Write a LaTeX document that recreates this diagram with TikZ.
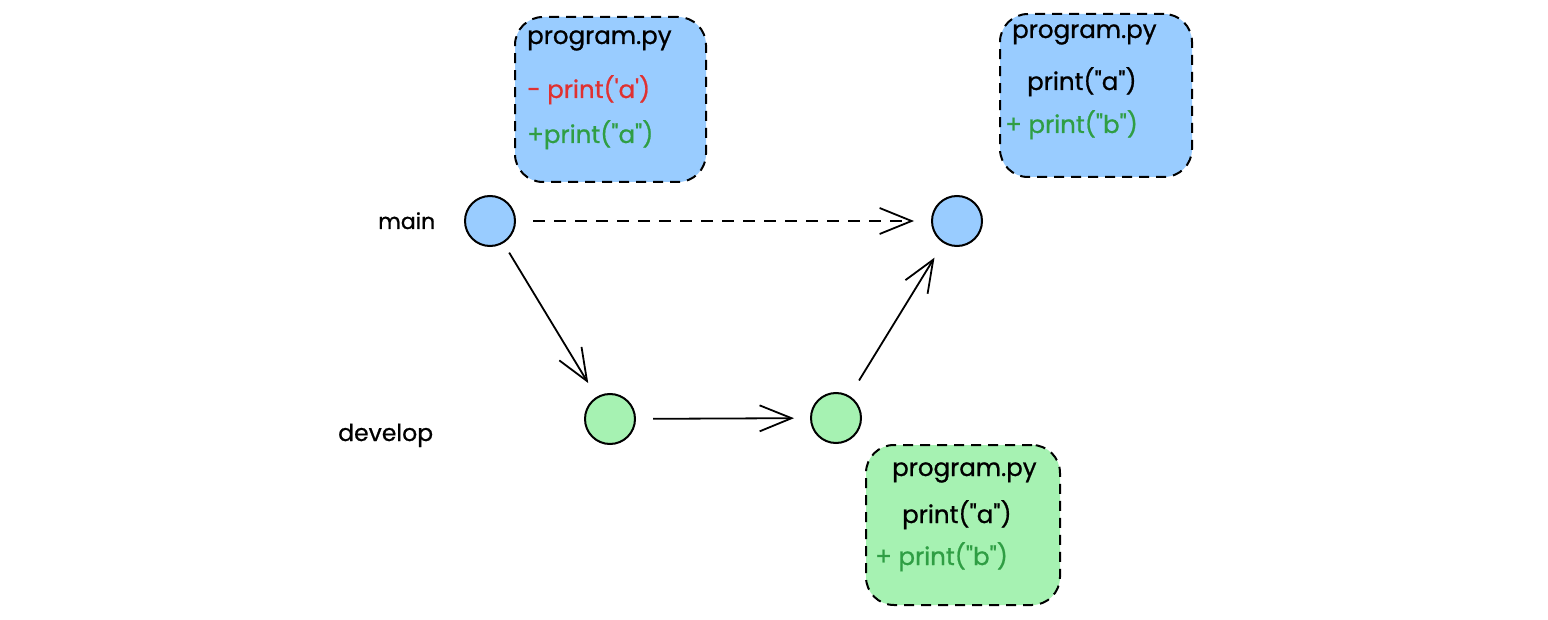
\documentclass[tikz,border=0pt]{standalone}
\usepackage{fontspec}
\setmainfont{Poppins}[Ligatures=TeXOff,FakeBold=0.8]
\usetikzlibrary{arrows.meta}
\definecolor{mblue}{RGB}{153,204,255}
\definecolor{mgreen}{RGB}{166,242,178}
\definecolor{tgreen}{RGB}{47,158,68}
\definecolor{tred}{RGB}{224,49,49}
\begin{document}
\begin{tikzpicture}[x=1pt,y=-1pt,
  commit/.style={circle,draw=black,line width=2pt,minimum size=50pt,inner sep=0pt},
  filebox/.style={draw=black,line width=2pt,dash pattern=on 10pt off 7pt,rounded corners=28pt,inner sep=0pt},
  txt/.style={font=\fontsize{24.5}{28}\selectfont,anchor=base west,inner sep=0pt},
  arr/.style={line width=1.8pt,-{Straight Barb[length=32pt,width=26pt,line width=1.8pt]}}
]
\useasboundingbox (0,0) rectangle (1548,620);
% file boxes
\node[filebox,fill=mblue,minimum width=191pt,minimum height=165pt] (box1) at (610.5,99.5) {};
\node[filebox,fill=mblue,minimum width=192pt,minimum height=163pt] (box2) at (1096,95.5) {};
\node[filebox,fill=mgreen,minimum width=194pt,minimum height=160pt] (box3) at (963,525) {};
% box texts
\node[txt] (b1a) at (527,44) {program.py};
\node[txt,text=tred] (b1b) at (527,98) {- print('a')};
\node[txt,text=tgreen] (b1c) at (527,143) {+print("a")};
\node[txt] (b2a) at (1012,38) {program.py};
\node[txt] (b2b) at (1027,90) {print("a")};
\node[txt,text=tgreen] (b2c) at (1005,133) {+ print("b")};
\node[txt] (b3a) at (892,476) {program.py};
\node[txt] (b3b) at (902,523) {print("a")};
\node[txt,text=tgreen] (b3c) at (875,565) {+ print("b")};
% labels
\node[txt,font=\fontsize{22}{26}\selectfont] (lmain) at (378,229) {main};
\node[txt,font=\fontsize{23.5}{26}\selectfont] (ldev) at (338,441) {develop};
% commits
\node[commit,fill=mblue] (m1) at (490,221) {};
\node[commit,fill=mblue] (m2) at (957,221) {};
\node[commit,fill=mgreen] (d1) at (610,419) {};
\node[commit,fill=mgreen] (d2) at (836,418) {};
% connectors
\draw[arr,dash pattern=on 12pt off 9pt,shorten <=17pt,shorten >=17pt] (m1) -- (m2);
\draw[arr,shorten <=11pt,shorten >=16pt] (m1) -- (d1);
\draw[arr,shorten <=17pt,shorten >=16pt] (d1) -- (d2);
\draw[arr,shorten <=18pt,shorten >=17pt] (d2) -- (m2);
\end{tikzpicture}
\end{document}
